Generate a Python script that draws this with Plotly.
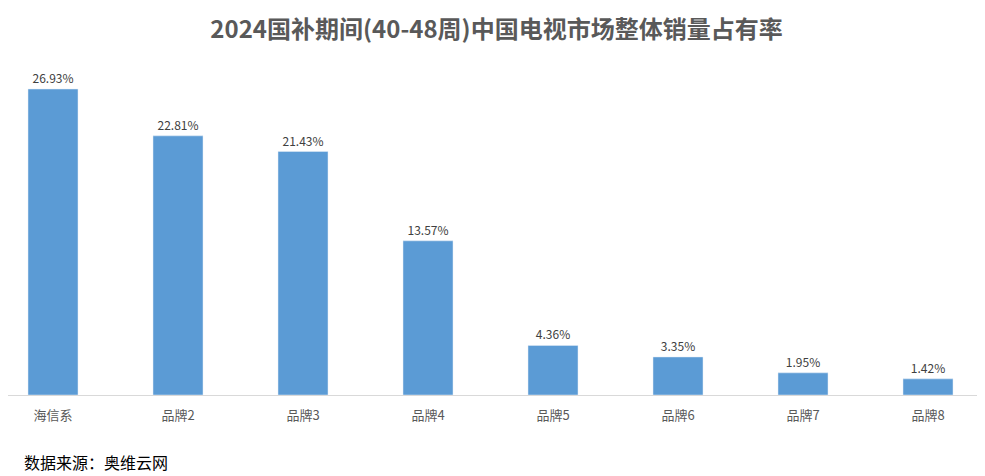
import plotly.graph_objects as go

brands = ["海信系", "品牌2", "品牌3", "品牌4", "品牌5", "品牌6", "品牌7", "品牌8"]
share = [26.93, 22.81, 21.43, 13.57, 4.36, 3.35, 1.95, 1.42]

FONT = "Noto Sans CJK SC"

fig = go.Figure(go.Bar(
    x=brands,
    y=share,
    marker_color="#5B9BD5",
    width=0.4,
    text=[f"{v:.2f}%" for v in share],
    textposition="outside",
    textfont=dict(size=12, color="#404040", family=FONT),
    cliponaxis=False,
))

# page body has an 8px margin, so the figure is a bit smaller than the window
fig.update_layout(
    width=977, height=468,
    margin=dict(l=0, r=0, t=60, b=81),
    paper_bgcolor="white",
    plot_bgcolor="white",
    font=dict(family=FONT),
    showlegend=False,
    title=dict(
        text="<b>2024国补期间(40-48周)中国电视市场整体销量占有率</b>",
        x=0.5, xanchor="center", y=0.953, yanchor="middle",
        font=dict(size=24, color="#595959", family=FONT),
    ),
    annotations=[dict(
        text="数据来源：奥维云网",
        xref="paper", yref="paper",
        x=0.014, y=-0.205, xanchor="left", yanchor="middle",
        showarrow=False,
        font=dict(size=16, color="#000000", family=FONT),
    )],
)
fig.update_xaxes(
    range=[-0.36, 7.456],
    showline=True, linecolor="#D9D9D9", linewidth=1,
    showgrid=False, ticks="",
    ticklabelstandoff=8,
    tickfont=dict(size=13, color="#595959", family=FONT),
)
fig.update_yaxes(
    range=[0, 28.78],
    visible=False, showgrid=False,
)

fig.write_html("out.html")
